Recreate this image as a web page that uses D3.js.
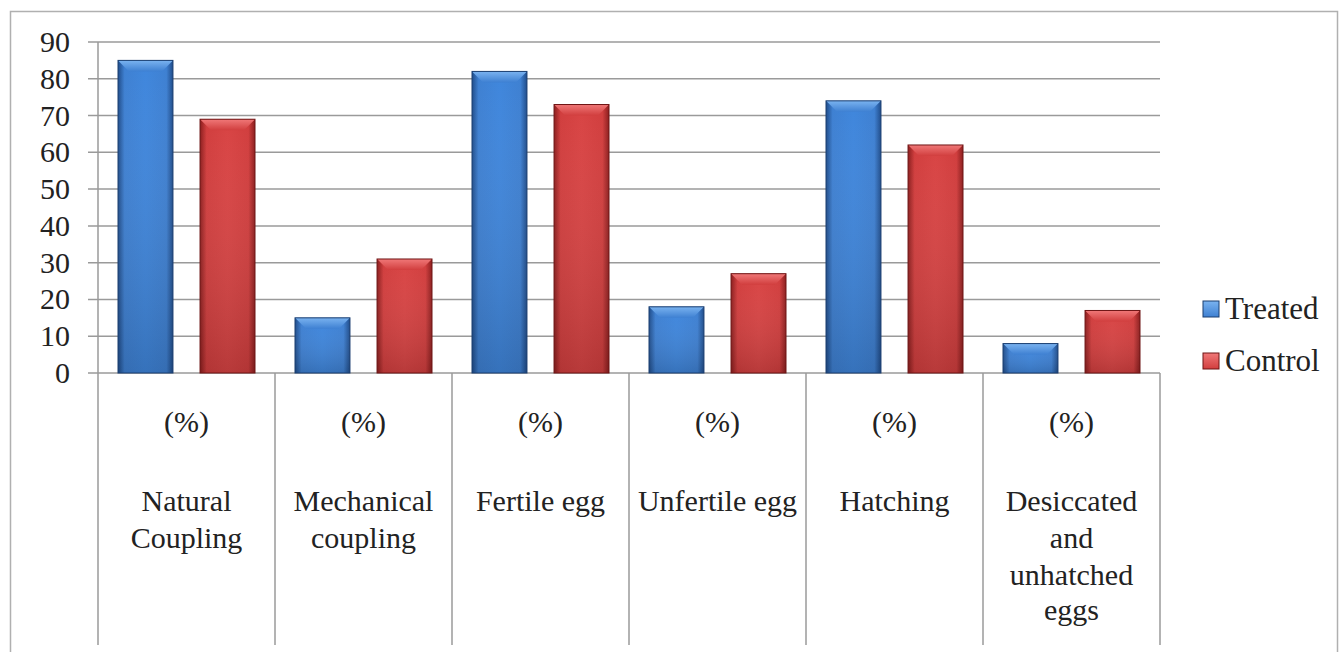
<!DOCTYPE html>
<html><head><meta charset="utf-8">
<script src="https://cdn.jsdelivr.net/npm/d3@7"></script>
<style>
body{margin:0;background:#fff}
svg{display:block}
svg text{font-family:"Liberation Serif","Tinos","Times New Roman","DejaVu Serif",serif !important}
</style>
</head><body><svg id="c" width="1340" height="652"></svg>
<script>
const categories = [["Natural","Coupling"],["Mechanical","coupling"],["Fertile egg"],["Unfertile egg"],["Hatching"],["Desiccated","and","unhatched","eggs"]];
const unitLabel = "(%)";
const seriesNames = ["Treated","Control"];
const treated = [85,15,82,18,74,8];
const control = [69,31,73,27,62,17];
const yTicks = [0,10,20,30,40,50,60,70,80,90];

const svg = d3.select("#c");
const FONT = "Liberation Serif";
const L=98,R=1160,T=42,B=373;
const x = d3.scaleBand().domain(d3.range(categories.length)).range([L,R]);
const y = d3.scaleLinear().domain([0,90]).range([B,T]);
const inner = d3.scaleBand().domain([0,1]).range([20, x.bandwidth()-20]).paddingInner(0.33);

const defs = svg.append("defs");
const pal = [{id:"gb",edge:"#1f4c8a",mid:"#3e80d2",light:"#3f86dc",top:"#7ab3f0",stroke:"#1a3e70"},
             {id:"gr",edge:"#8c1e1e",mid:"#d13e3e",light:"#d84444",top:"#f07878",stroke:"#6e1515"}];
pal.forEach(p=>{
  const g=defs.append("linearGradient").attr("id",p.id).attr("x1",0).attr("x2",1).attr("y1",0).attr("y2",0);
  g.append("stop").attr("offset","0%").attr("stop-color",p.edge);
  g.append("stop").attr("offset","12%").attr("stop-color",p.mid);
  g.append("stop").attr("offset","50%").attr("stop-color",p.light);
  g.append("stop").attr("offset","88%").attr("stop-color",p.mid);
  g.append("stop").attr("offset","100%").attr("stop-color",p.edge);
  const t=defs.append("linearGradient").attr("id",p.id+"t").attr("x1",0).attr("x2",0).attr("y1",0).attr("y2",1);
  t.append("stop").attr("offset","0%").attr("stop-color",p.top);
  t.append("stop").attr("offset","100%").attr("stop-color",p.mid);
  const v=defs.append("linearGradient").attr("id",p.id+"v").attr("x1",0).attr("x2",0).attr("y1",0).attr("y2",1);
  v.append("stop").attr("offset","0%").attr("stop-color","#fff").attr("stop-opacity",0);
  v.append("stop").attr("offset","100%").attr("stop-color","#000").attr("stop-opacity",0.15);
});

svg.append("rect").attr("x",10.5).attr("y",11.5).attr("width",1327).attr("height",660).attr("fill","none").attr("stroke","#b0b0b0").attr("stroke-width",1.5);

svg.append("g").selectAll("line").data(yTicks).join("line")
  .attr("x1",L-10).attr("x2",R).attr("y1",d=>y(d)).attr("y2",d=>y(d))
  .attr("stroke","#9a9a9a").attr("stroke-width",1.5);
svg.append("line").attr("x1",L).attr("x2",L).attr("y1",T).attr("y2",B).attr("stroke","#9a9a9a").attr("stroke-width",1.5);

function label(sel){ return sel.attr("font-family",FONT).attr("font-size",30).attr("fill","#222"); }

yTicks.forEach(d=>{
  label(svg.append("text")).attr("x",70).attr("y",y(d)+10).attr("text-anchor","end").text(d);
});

const bounds = d3.range(categories.length+1).map(i=> i<categories.length? x(i): R);
svg.append("g").selectAll("line").data(bounds).join("line")
  .attr("x1",d=>d).attr("x2",d=>d).attr("y1",B).attr("y2",645)
  .attr("stroke","#9a9a9a").attr("stroke-width",1.5);

const nameBase = [511,548,585,620];
categories.forEach((c,i)=>{
  const cx = x(i)+x.bandwidth()/2;
  label(svg.append("text")).attr("x",cx).attr("y",432).attr("text-anchor","middle").text(unitLabel);
  c.forEach((t,j)=>{
    label(svg.append("text")).attr("x",cx).attr("y",nameBase[j]).attr("text-anchor","middle").text(t);
  });
});

const series=[treated,control];
series.forEach((vals,s)=>{
  const p=pal[s];
  const g=svg.append("g");
  vals.forEach((v,i)=>{
    const bx=x(i)+inner(s), bw=inner.bandwidth(), by=y(v), bh=B-y(v);
    g.append("rect").attr("x",bx).attr("y",by).attr("width",bw).attr("height",bh)
      .attr("fill",`url(#${p.id})`);
    g.append("rect").attr("x",bx).attr("y",by).attr("width",bw).attr("height",bh)
      .attr("fill",`url(#${p.id}v)`);
    const bev=Math.min(11,bh/2);
    g.append("path").attr("d",`M${bx},${by}L${bx+bw},${by}L${bx+bw-bev},${by+bev}L${bx+bev},${by+bev}Z`)
      .attr("fill",`url(#${p.id}t)`);
    g.append("rect").attr("x",bx).attr("y",by).attr("width",bw).attr("height",bh)
      .attr("fill","none").attr("stroke",p.stroke).attr("stroke-width",1);
  });
});

seriesNames.forEach((n,i)=>{
  const ly = 309 + i*52;
  const p=pal[i];
  svg.append("rect").attr("x",1203).attr("y",ly-8).attr("width",16).attr("height",16)
    .attr("fill",`url(#${p.id}t)`).attr("stroke",p.stroke).attr("stroke-width",1);
  label(svg.append("text")).attr("x",1225).attr("y",ly+10).attr("font-size",31).text(n);
});
</script></body></html>
